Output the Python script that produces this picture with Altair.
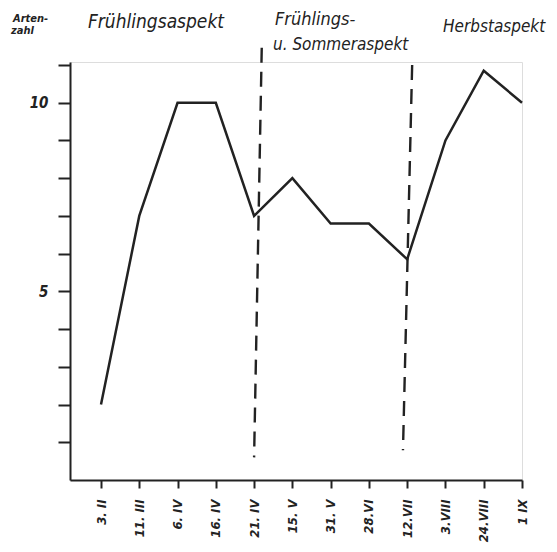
import json
import altair as alt
import pandas as pd

# ---- data ----
dates = ["3. II", "11. III", "6. IV", "16. IV", "21. IV", "15. V", "31. V",
         "28.VI", "12.VII", "3.VIII", "24.VIII", "1 IX"]
counts = [2, 7, 10, 10, 7, 8, 6.8, 6.8, 5.85, 9, 10.85, 10]
y_ticks = list(range(1, 12))
y_labelled = [5, 10]

# dashed season dividers (data units: index position and Artenzahl)
divider_x_top = [4.2, 8.13]
divider_x_bottom = [4.0, 7.89]
divider_y_top = [11.46, 11.0]
divider_y_bottom = [0.6, 0.79]

y_title_lines = ["Arten-", "zahl"]
season_1 = "Frühlingsaspekt"
season_2 = ["Frühlings-", "u. Sommeraspekt"]
season_3 = "Herbstaspekt"

INK = "#222222"
FONT = "DejaVu Sans Condensed, DejaVu Sans"

df = pd.DataFrame({"idx": list(range(len(dates))), "date": dates, "count": counts})
div = pd.DataFrame({"x": divider_x_top, "x2": divider_x_bottom,
                    "y": divider_y_top, "y2": divider_y_bottom})

x_scale = alt.Scale(domain=[-0.81, 11], nice=False, zero=False)
y_scale = alt.Scale(domain=[0, 11.08], nice=False, zero=True)

x_label_expr = json.dumps(dates) + "[datum.value]"
y_label_expr = " || ".join(f"datum.value == {v}" for v in y_labelled) + " ? datum.label : ''"

x_axis = alt.Axis(values=list(range(len(dates))), labelExpr=x_label_expr, labelAngle=270,
                  labelAlign="right", labelBaseline="middle", title=None, grid=False,
                  tickSize=8, tickWidth=2, tickColor=INK, domainWidth=2, domainColor=INK,
                  labelFont=FONT, labelFontSize=13, labelFontWeight="bold",
                  labelFontStyle="italic", labelColor=INK, labelPadding=11)
y_axis = alt.Axis(values=y_ticks, labelExpr=y_label_expr, title=None, grid=False,
                  tickSize=12, tickWidth=2, tickColor=INK, domainWidth=2, domainColor=INK,
                  labelFont=FONT, labelFontSize=15, labelFontWeight="bold",
                  labelFontStyle="italic", labelColor=INK, labelPadding=10)

line = alt.Chart(df).mark_line(color=INK, strokeWidth=2.5, strokeJoin="miter").encode(
    x=alt.X("idx:Q", scale=x_scale, axis=x_axis),
    y=alt.Y("count:Q", scale=y_scale, axis=y_axis),
)

rules = alt.Chart(div).mark_rule(color=INK, strokeWidth=2.4, strokeDash=[15, 9]).encode(
    x=alt.X("x:Q", scale=x_scale), x2="x2",
    y=alt.Y("y:Q", scale=y_scale), y2="y2",
)

one = pd.DataFrame({"k": [0]})


def label(txt, x, y, size, weight="normal"):
    return alt.Chart(one).mark_text(
        text=txt, align="left", baseline="alphabetic", font=FONT, fontSize=size,
        fontStyle="italic", fontWeight=weight, color=INK,
    ).encode(x=alt.value(x), y=alt.value(y))


texts = [
    label(y_title_lines[0], -57, -40, 11, "bold"),
    label(y_title_lines[1], -59, -28, 11, "bold"),
    label(season_1, 18, -34, 19),
    label(season_2[0], 205, -37, 18),
    label(season_2[1], 203, -12, 17),
    label(season_3, 373, -30, 17),
]

chart = alt.layer(rules, line, *texts).properties(
    width=452, height=418,
    autosize=alt.AutoSizeParams(type="none"),
    padding={"left": 62, "top": 54, "right": 27, "bottom": 64},
).configure_view(stroke=None).configure(background="white")

chart.save("out.html", embed_options={"renderer": "svg", "actions": False})
